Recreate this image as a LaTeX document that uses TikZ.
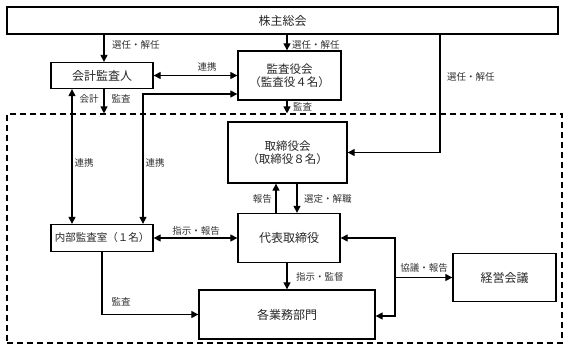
\documentclass[tikz,border=0pt]{standalone}
\usepackage{fontspec}
\setmainfont{Noto Sans CJK JP}
\usetikzlibrary{arrows.meta}
\begin{document}
\begin{tikzpicture}[x=1pt,y=-1pt,
  box/.style={draw,line width=1.3pt,inner sep=0pt,align=center,text=black!85,font=\fontsize{12}{14}\selectfont},
  lbl/.style={font=\fontsize{9.5}{11}\selectfont,inner sep=1pt,text=black!80},
  conn/.style={line width=1.1pt,-{Triangle[length=7pt,width=7pt]}},
  conntwo/.style={line width=1.1pt,{Triangle[length=7pt,width=7pt]}-{Triangle[length=7pt,width=7pt]}}]
\useasboundingbox (0,0) rectangle (568,351);

% boxes
\node[box,minimum width=551pt,minimum height=27pt] (sh) at (282.5,20.5) {株主総会};
\node[box,minimum width=102pt,minimum height=26pt] (kk) at (102,75.5) {会計監査人};
\node[box,minimum width=103pt,minimum height=49pt,font=\fontsize{11.5}{13.5}\selectfont] (ka) at (289.5,75.5) {監査役会\\（監査役４名）};
\node[draw,dashed,dash pattern=on 6pt off 4pt,line width=1.1pt,minimum width=555pt,minimum height=229pt,inner sep=0pt] (inner) at (284.5,228.5) {};
\node[box,minimum width=119pt,minimum height=61pt,font=\fontsize{11.5}{13.5}\selectfont] (tr) at (287.5,152.5) {取締役会\\（取締役８名）};
\node[box,minimum width=102pt,minimum height=49pt] (dh) at (289,238) {代表取締役};
\node[box,minimum width=102pt,minimum height=27pt,font=\fontsize{10.5}{12}\selectfont] (nb) at (102,238) {内部監査室（１名）};
\node[box,minimum width=176pt,minimum height=49pt] (kg) at (287,314.5) {各業務部門};
\node[box,minimum width=103pt,minimum height=48pt] (kei) at (504.5,277.5) {経営会議};

% helper coordinates
\coordinate (cA) at (104,0);
\coordinate (cB) at (287,0);
\coordinate (cC) at (72,0);
\coordinate (p1) at (143,94);
\coordinate (p2) at (440,152.5);
\coordinate (cR) at (276,0);
\coordinate (cS) at (297,0);
\coordinate (q1) at (102,314.5);
\coordinate (r1) at (395,238);
\coordinate (r2) at (395,316);
\coordinate (r3) at (395,277.5);

% connectors
\draw[conn] (sh.south -| cA) -- (kk.north -| cA);
\node[lbl,anchor=west] (l1) at (111,45) {選任・解任};
\draw[conn] (sh.south -| cB) -- (ka.north -| cB);
\node[lbl,anchor=west] (l2) at (291,45) {選任・解任};
\draw[conntwo] (kk.east) -- (kk.east -| ka.west);
\node[lbl] (l3) at (207,67) {連携};
\draw[conntwo] (nb.north -| p1) -- (p1) -- (p1 -| ka.west);
\node[lbl] (l4) at (155,163) {連携};
\draw[conntwo] (kk.south -| cC) -- (nb.north -| cC);
\node[lbl] (l5) at (84,163) {連携};
\draw[conn] (kk.south -| cA) -- (inner.north -| cA);
\node[lbl] (l6) at (89,99) {会計};
\node[lbl] (l7) at (121,99) {監査};
\draw[conn] (ka.south -| cB) -- (inner.north -| cB);
\node[lbl,anchor=west] (l8) at (292,107) {監査};
\draw[conn] (sh.south -| p2) -- (p2) -- (tr.east);
\node[lbl,anchor=west] (l9) at (446,77) {選任・解任};
\draw[conn] (dh.north -| cR) -- (tr.south -| cR);
\node[lbl,anchor=east] (l10) at (273,199) {報告};
\draw[conn] (tr.south -| cS) -- (dh.north -| cS);
\node[lbl,anchor=west] (l11) at (303,199) {選定・解職};
\draw[conntwo] (nb.east) -- (dh.west);
\node[lbl] (l12) at (196,231) {指示・報告};
\draw[conn] (dh.south -| cB) -- (kg.north -| cB);
\node[lbl,anchor=west] (l13) at (295,277) {指示・監督};
\draw[conn] (nb.south -| q1) -- (q1) -- (kg.west);
\node[lbl] (l14) at (121,302) {監査};
\draw[conntwo] (dh.east) -- (r1) -- (r2) -- (kg.east |- r2);
\draw[conn] (r3) -- (kei.west);
\node[lbl] (l15) at (424,268) {協議・報告};
\end{tikzpicture}
\end{document}
